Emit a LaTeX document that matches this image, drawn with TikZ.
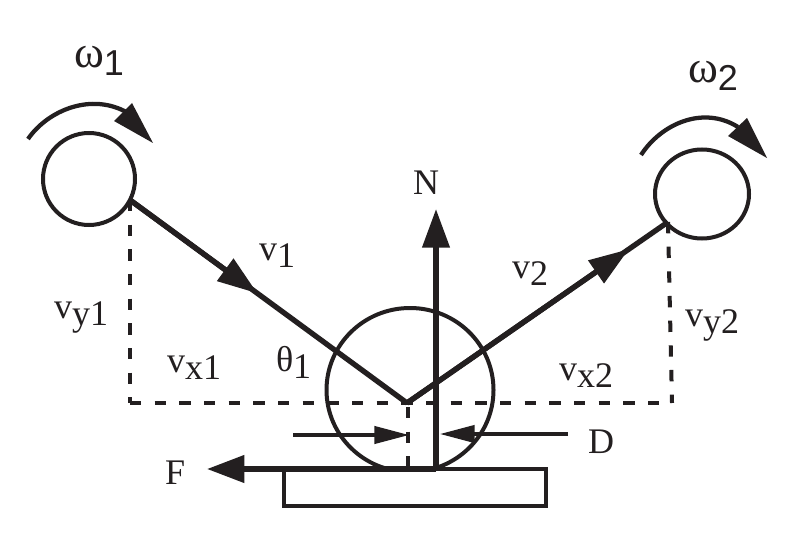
\documentclass[tikz,border=0pt]{standalone}
\usepackage{fontspec}
\setmainfont{Liberation Serif}
\newfontfamily\digitfont{Liberation Sans}
\usetikzlibrary{arrows.meta,shapes.geometric,calc}
\definecolor{ink}{HTML}{231F20}
\newcommand{\lowtext}[2]{#1\raisebox{-5.5pt}{#2}}
\newcommand{\spintext}[2]{{\fontsize{34}{34}\selectfont #1}\raisebox{-5.5pt}{\digitfont #2}}
\tikzset{
  every node/.style={inner sep=0pt,outer sep=0pt,text=ink},
  lbl/.style={anchor=base west,font=\fontsize{27}{27}\selectfont},
  ball/.style={draw=ink,line width=3pt,ellipse,fill=white},
  vec/.style={draw=ink,line width=4pt},
  thinvec/.style={draw=ink,line width=2.4pt},
  dashline/.style={draw=ink,line width=3pt,dash pattern=on 8.5pt off 10pt},
  spin/.style={draw=ink,line width=3.2pt},
  head/.style={fill=ink,draw=none},
  bigtip/.style={-{Triangle[length=29pt,width=20pt]}},
  ftip/.style={-{Triangle[length=28pt,width=20pt]}},
  midtip/.style={-{Triangle[length=30pt,width=20pt]}},
  smalltip/.style={-{Triangle[length=26pt,width=13pt]}},
}
\begin{document}
\begin{tikzpicture}[x=0.75pt,y=-0.75pt]
\useasboundingbox (0,0) rectangle (802,556);
\fill[white] (0,0) rectangle (802,556);
% named points
\coordinate (apex) at (407,403);
\coordinate (s1) at (130,200);
\coordinate (s2) at (668,222);
\coordinate (d1) at (130,403);
\coordinate (d2) at (672,403);
\coordinate (foot) at (408,468);
\coordinate (base) at (436,469);
\coordinate (top) at (436,209);
\coordinate (ftip) at (207,469);
\coordinate (dla) at (293,435);
\coordinate (dlb) at (409,435);
\coordinate (dra) at (568,434);
\coordinate (drb) at (440,434);
% contact ball and table
\node[ball,minimum width=167pt*0.75,minimum height=164pt*0.75,fill=none] (contact) at (410,390) {};
\fill[white] (300,470.5) rectangle (560,510);
\node[draw=ink,line width=2.8pt,minimum width=262pt*0.75,minimum height=37pt*0.75,fill=white] (table) at (415,487.5) {};
% balls
\node[ball,minimum width=92pt*0.75,minimum height=92pt*0.75] (b1) at (89,179) {};
\node[ball,minimum width=94pt*0.75,minimum height=89pt*0.75] (b2) at (702,194) {};
% dashed lines
\draw[dashline] (s1) -- (d1);
\draw[dashline] (s2) -- (d2);
\draw[dashline] (d1) -- (d2);
\draw[dashline] (apex) ++(1,4) -- (foot);
% vectors
\draw[vec] (s1) -- (apex);
\draw[vec,midtip] (s1) -- ($(s1)!0.46!(apex)$);
\draw[vec] (apex) -- (s2);
\draw[vec,midtip] (apex) -- ($(apex)!0.85!(s2)$);
\draw[vec,bigtip] (base) -- (top);
\draw[vec,ftip] (base) -- (ftip);
\draw[thinvec,smalltip] (dla) -- (dlb);
\draw[thinvec,smalltip] (dra) -- (drb);
% spin arrows
\draw[spin] (28,139) .. controls (48,110) and (92,92) .. (128,113);
\fill[head] (153,143) -- (132,103) -- (114,121) -- cycle;
\draw[spin] (641,155) .. controls (661,124) and (703,105) .. (738,127);
\fill[head] (767,158) -- (747,118) -- (728,136) -- cycle;
% labels
\node[lbl] (w1) at (74,68) {\spintext{ω}{1}};
\node[lbl] (w2) at (688,83) {\spintext{ω}{2}};
\node[lbl] (v1) at (259,260) {\lowtext{v}{1}};
\node[lbl] (v2) at (512,278) {\lowtext{v}{2}};
\node[lbl] (vy1) at (54,318) {\lowtext{v}{y1}};
\node[lbl] (vy2) at (685,326) {\lowtext{v}{y2}};
\node[lbl] (vx1) at (167,372) {\lowtext{v}{x1}};
\node[lbl] (vx2) at (559,380) {\lowtext{v}{x2}};
\node[lbl] (th1) at (276,371) {\lowtext{θ}{1}};
\node[lbl] (N) at (413,194) {N};
\node[lbl] (D) at (588,453) {D};
\node[lbl] (F) at (165,484) {F};
\end{tikzpicture}
\end{document}
